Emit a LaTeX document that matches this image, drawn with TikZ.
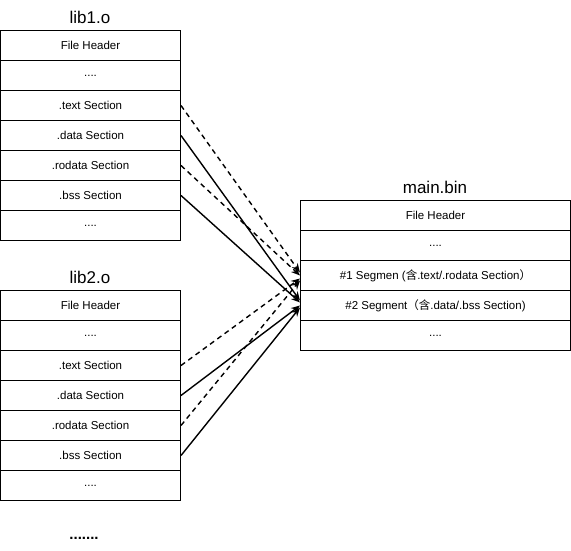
\documentclass[tikz,border=0pt]{standalone}
\usepackage{fontspec}
\setmainfont{Liberation Sans}
\newfontfamily\cjk{Noto Sans CJK SC}
\usetikzlibrary{arrows.meta}
\begin{document}
\begin{tikzpicture}[x=1pt,y=-1pt,
  cell/.style={draw, line width=1pt, minimum width=180pt, minimum height=30pt, inner sep=0pt, anchor=north west, font=\fontsize{11.5}{13}\selectfont},
  wcell/.style={cell, minimum width=270pt},
  title/.style={font=\fontsize{17}{20}\selectfont},
  link/.style={line width=1.4pt, -{Stealth[length=9pt,width=7pt]}},
  dlink/.style={link, dash pattern=on 5pt off 4pt}]
\useasboundingbox (0,0) rectangle (571,551);
% lib1.o
\node[title] (t1) at (90,17) {lib1.o};
\node[cell] (a1) at (0,30) {File Header};
\node[cell] (a2) at (0,60) {....};
\node[cell] (a3) at (0,90) {.text Section};
\node[cell] (a4) at (0,120) {.data Section};
\node[cell] (a5) at (0,150) {.rodata Section};
\node[cell] (a6) at (0,180) {.bss Section};
\node[cell] (a7) at (0,210) {....};
% lib2.o
\node[title] (t2) at (90,277) {lib2.o};
\node[cell] (b1) at (0,290) {File Header};
\node[cell] (b2) at (0,320) {....};
\node[cell] (b3) at (0,350) {.text Section};
\node[cell] (b4) at (0,380) {.data Section};
\node[cell] (b5) at (0,410) {.rodata Section};
\node[cell] (b6) at (0,440) {.bss Section};
\node[cell] (b7) at (0,470) {....};
% main.bin
\node[title] (t3) at (435,187) {main.bin};
\node[wcell] (m1) at (300,200) {File Header};
\node[wcell] (m2) at (300,230) {....};
\node[wcell] (m3) at (300,260) {\#1 Segmen ({\cjk 含}.text/.rodata Section{\cjk ）}};
\node[wcell] (m4) at (300,290) {\#2 Segment{\cjk （含}.data/.bss Section)};
\node[wcell] (m5) at (300,320) {....};
\node[font=\fontsize{15}{17}\selectfont\bfseries] (more) at (84,538) {.......};
% targets
\coordinate (p1) at ([yshift=3pt]m3.west);
\coordinate (p2) at ([yshift=0pt]m3.west);
\coordinate (p3) at ([yshift=-3pt]m3.west);
\coordinate (p4) at ([yshift=-5pt]m3.west);
\coordinate (q1) at ([yshift=5pt]m4.west);
\coordinate (q2) at ([yshift=3pt]m4.west);
\coordinate (q3) at ([yshift=0pt]m4.west);
\coordinate (q4) at ([yshift=-2pt]m4.west);
% arrows
\draw[dlink] (a3.east) -- (p1);
\draw[dlink] (a5.east) -- (p2);
\draw[dlink] (b3.east) -- (p3);
\draw[dlink] (b5.east) -- (p4);
\draw[link] (a4.east) -- (q1);
\draw[link] (a6.east) -- (q2);
\draw[link] (b4.east) -- (q3);
\draw[link] (b6.east) -- (q4);
\end{tikzpicture}
\end{document}
